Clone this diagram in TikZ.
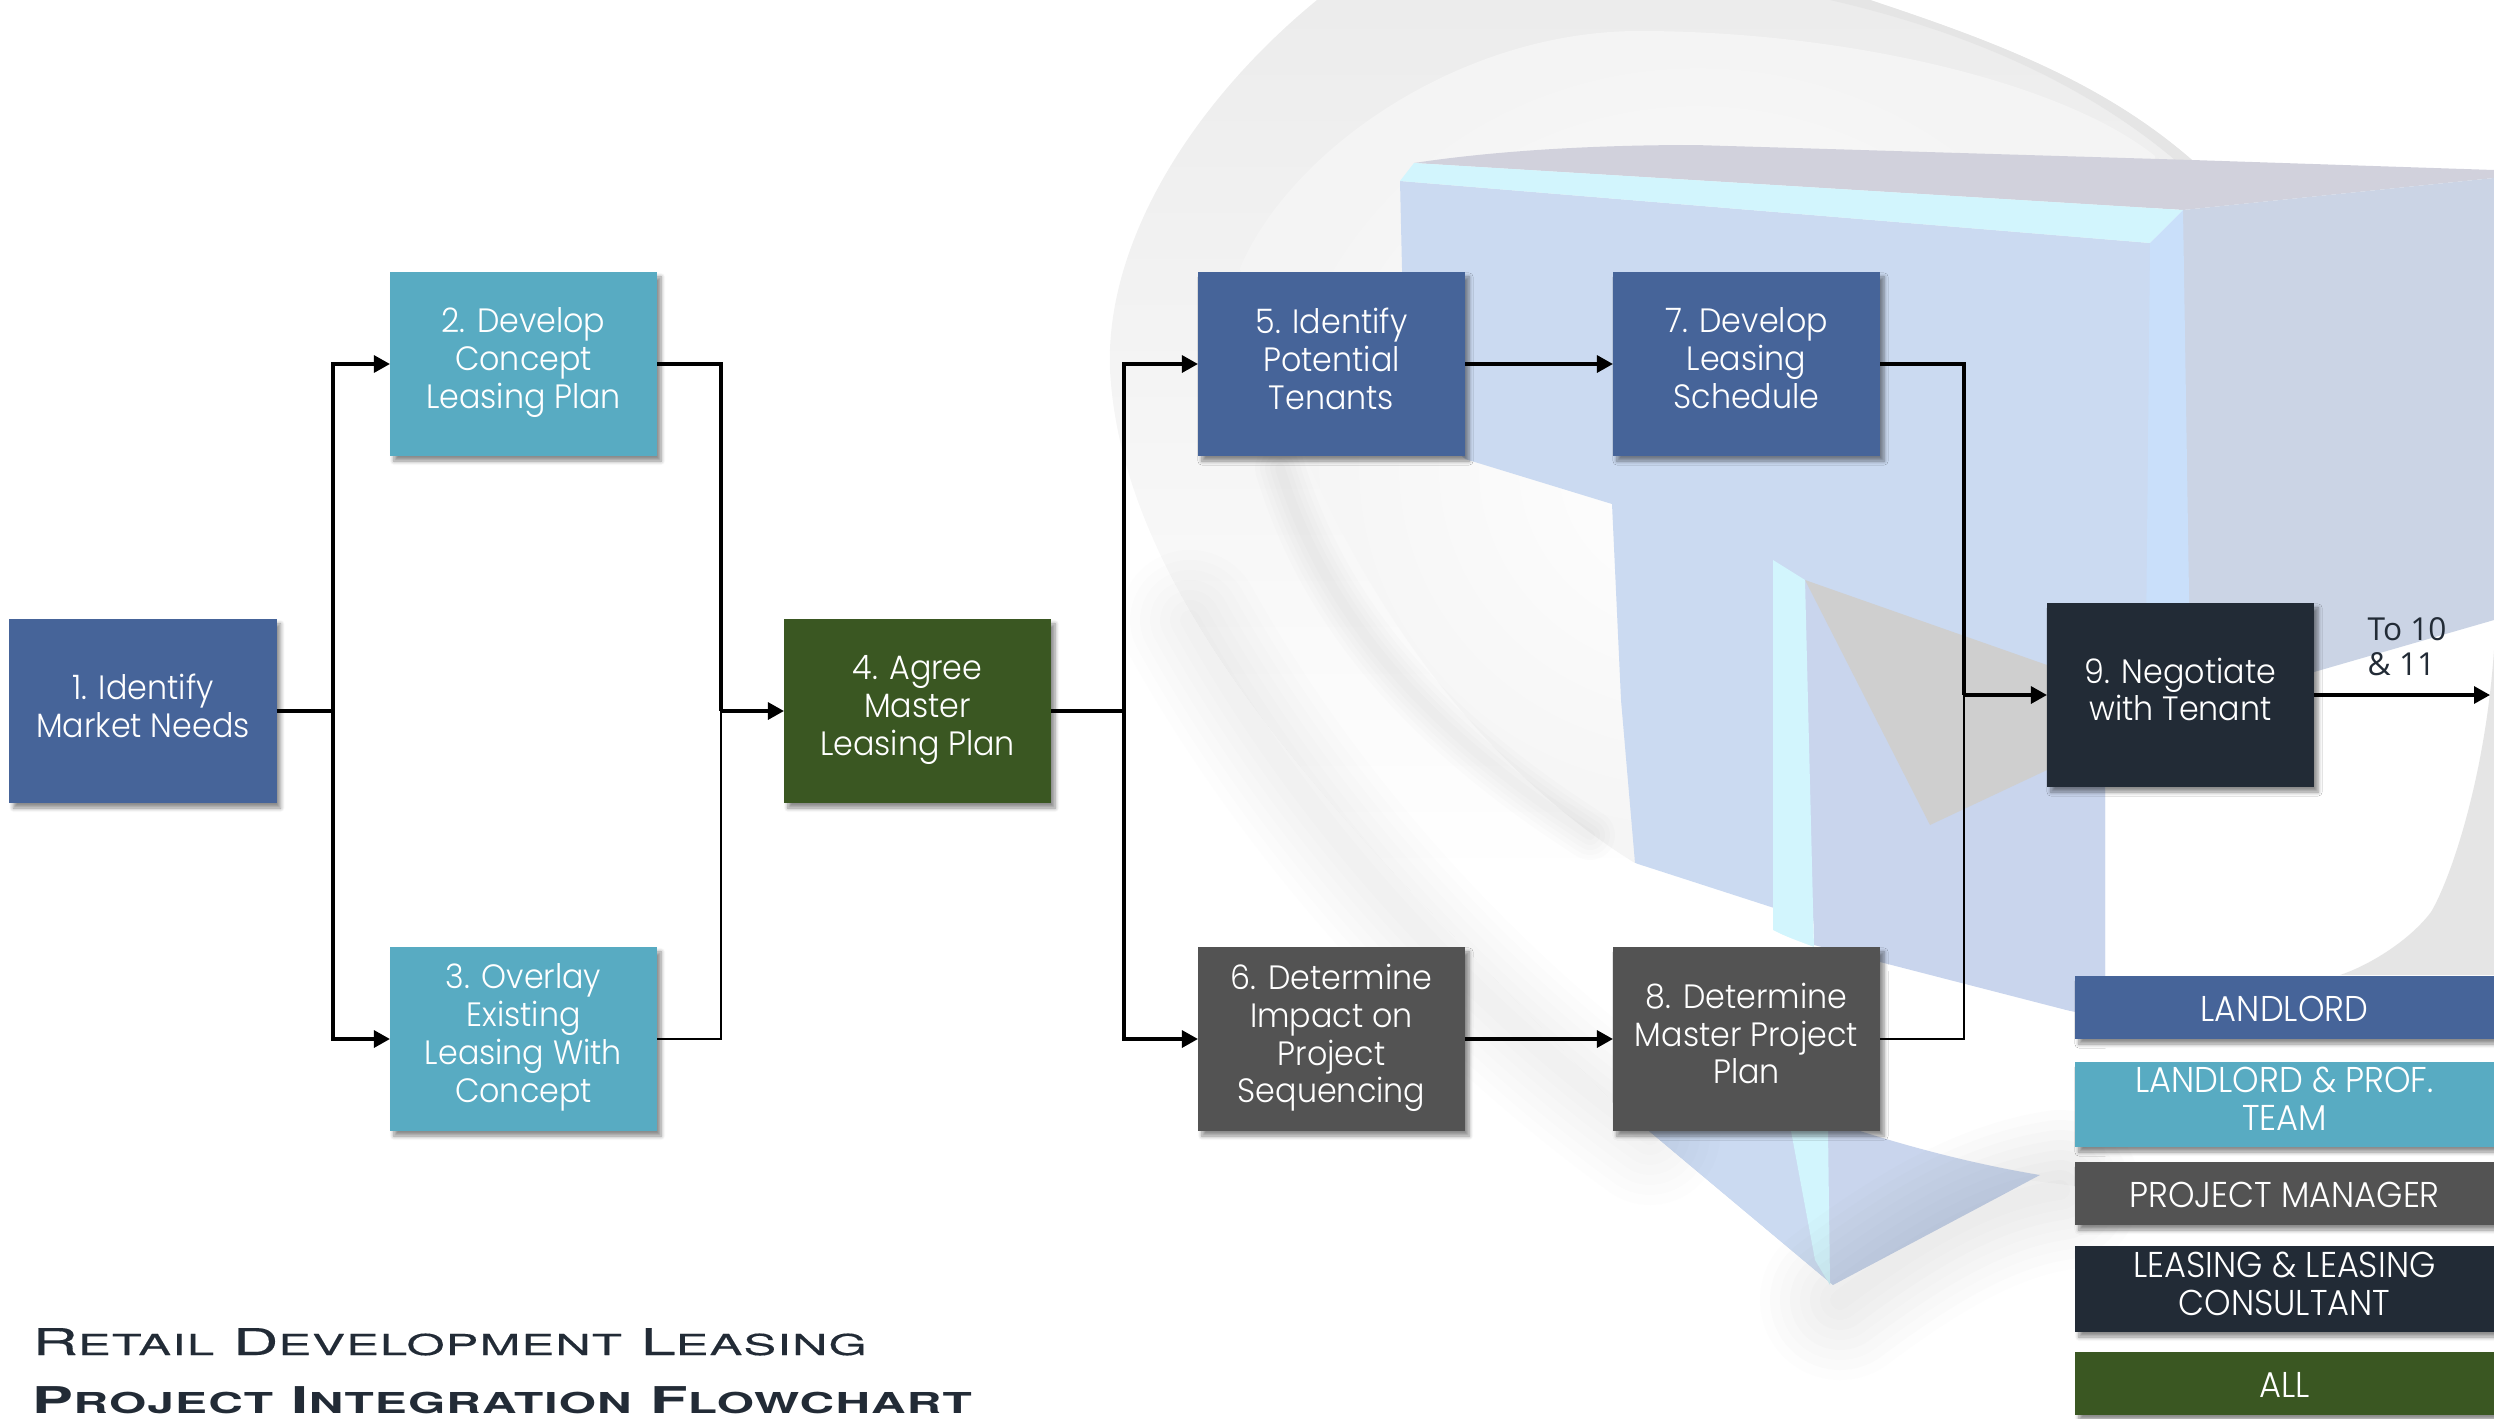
\documentclass[tikz,border=0pt]{standalone}
\usepackage{fontspec}
\setmainfont{Poppins}[UprightFont=* Light,FakeStretch=0.94]
\newfontfamily\labelfont{Open Sans}
\newfontfamily\titlefont{TeX Gyre Heros}[FakeStretch=1.7,LetterSpace=4,FakeBold=0.4]
\newfontfamily\headfont{TeX Gyre Heros}[FakeStretch=1.66,LetterSpace=4]
\usetikzlibrary{positioning,arrows.meta,shadows.blur}
\definecolor{landlord}{HTML}{466499}
\definecolor{team}{HTML}{58ABC2}
\definecolor{manager}{HTML}{535353}
\definecolor{leasing}{HTML}{222B36}
\definecolor{allparty}{HTML}{3A5722}
\definecolor{face}{HTML}{CBDAF1}
\definecolor{side}{HTML}{CBD4E5}
\definecolor{lower}{HTML}{C9D5ED}
\definecolor{edgetop}{HTML}{D1D1DC}
\definecolor{glint}{HTML}{D2F5FD}
\definecolor{stripe}{HTML}{C9DFFA}
\begin{document}
\begin{tikzpicture}[x=0.01cm,y=-0.01cm]
    \tikzset{
        box/.style={draw=none, shape=rectangle, text=white, align=center, font=\fontsize{9.6}{10.8}\selectfont,
            minimum width=2.67cm, minimum height=1.84cm, inner sep=0pt, outer sep=0pt,
            execute at begin node={\rule{0pt}{11pt}}, execute at end node=\strut,
            blur shadow={shadow xshift=0.04cm, shadow yshift=-0.05cm, shadow blur steps=6, shadow blur radius=0.04cm, shadow opacity=45}},
        key/.style={box, font=\fontsize{10.2}{10.8}\selectfont, minimum width=4.19cm, minimum height=0.63cm},
        flow/.style={black, line width=0.9pt, -{Triangle[length=0.16cm, width=0.17cm]}},
        feed/.style={black, line width=0.9pt},
        feedthin/.style={black, line width=0.4pt}
    }
    \useasboundingbox (0,0) rectangle (2494,1418);
    % watermark behind the chart
    \shade[top color=gray!15, bottom color=white] (1317,0) .. controls (1195,100) and (1105,240) .. (1110,370)
        .. controls (1120,560) and (1270,740) .. (1400,880) -- (1635,880) -- (2192,160)
        .. controls (2100,80) and (1990,40) .. (1870,0) -- cycle;
    \shade[inner color=white, outer color=gray!9] (1240,268) .. controls (1290,150) and (1460,31) .. (1639,31)
        .. controls (1840,31) and (2060,80) .. (2155,156) -- (2155,900) -- (1635,863)
        .. controls (1500,780) and (1330,600) .. (1240,268) -- cycle;
    \fill[gray!20] (1870,0) .. controls (1990,40) and (2100,80) .. (2192,160) -- (2175,160)
        .. controls (2080,80) and (1960,30) .. (1830,0) -- cycle;
    \fill[white] (2105,600) rectangle (2494,985);
    \fill[gray!20] (2494,650) .. controls (2485,780) and (2450,880) .. (2431,912)
        .. controls (2410,940) and (2370,965) .. (2340,975) -- (2494,975) -- cycle;
    % faces of the letter
    \fill[edgetop] (1414,163) .. controls (1500,150) and (1600,145) .. (1695,145) -- (2192,160) -- (2494,170)
        -- (2494,178) -- (2183,210) -- cycle;
    \fill[side] (2183,210) -- (2494,178) -- (2494,620) -- (2314,672) -- (2105,730) -- cycle;
    \fill[face] (1400,181) -- (2150,243) -- (2190,660) -- (2105,730) -- (2105,1015) -- (1635,863) -- (1621,700)
        -- (1612,504) -- (1465,459) -- (1405,400) -- cycle;
    \fill[lower] (1805,580) -- (2050,690) -- (2105,790) -- (2105,1020) -- (1814,945) -- cycle;
    \fill[glint] (1414,163) -- (2183,210) -- (2150,243) -- (1400,181) -- cycle;
    \fill[stripe] (2183,210) -- (2150,243) -- (2146,640) -- (2190,660) -- cycle;
    \fill[gray!38] (1805,580) -- (2047,665) -- (2047,770) -- (1930,825) -- cycle;
    \fill[glint] (1773,560) -- (1805,580) -- (1814,950) -- (1773,930) -- cycle;
    % white sweep across the stem, and the tip below it
    \fill[white] (1635,863) .. controls (1750,930) and (1900,990) .. (2105,1016)
        -- (2105,1190) -- (1640,1131) -- (1400,880) -- cycle;
    \fill[lower] (1649,1131) -- (1860,1131) .. controls (1920,1150) and (1980,1165) .. (2040,1175) -- (1833,1285) -- cycle;
    \fill[face] (1649,1131) -- (1791,1131) -- (1815,1260) -- (1833,1285) -- cycle;
    \fill[glint] (1791,1131) -- (1828,1131) -- (1830,1285) -- (1815,1260) -- cycle;
    \foreach \w in {20,40,...,140}
        \draw[gray, line width=\w*0.01cm, opacity=0.014, line cap=round]
            (1190,620) .. controls (1290,800) and (1450,990) .. (1650,1135);
    \foreach \w in {20,40,...,160}
        \draw[gray, line width=\w*0.01cm, opacity=0.02, line cap=round]
            (1840,1300) .. controls (1920,1240) and (1990,1200) .. (2060,1190);
    \foreach \w in {10,20,...,50}
        \draw[gray, line width=\w*0.01cm, opacity=0.018, line cap=round]
            (1280,468) .. controls (1320,600) and (1410,720) .. (1590,835);
    % steps
    \node[box, fill=landlord] (1) at (143,711) {1. Identify\\Market Needs};
    \node[box, fill=team] (2) at (523.5,364) {2. Develop\\Concept\\Leasing Plan};
    \node[box, fill=team] (3) at (523.5,1039) {3. Overlay\\Existing\\Leasing With\\Concept};
    \node[box, fill=allparty] (4) at (917.5,711) {4. Agree\\Master\\Leasing Plan};
    \node[box, fill=landlord] (5) at (1331.5,364) {5. Identify\\Potential\\Tenants};
    \node[box, fill=manager] (6) at (1331.5,1039) {6. Determine\\Impact on\\Project\\Sequencing};
    \node[box, fill=landlord] (7) at (1746.5,364) {7. Develop\\Leasing\\Schedule};
    \node[box, fill=manager] (8) at (1746.5,1039) {8. Determine\\Master Project\\Plan};
    \node[box, fill=leasing] (9) at (2180.5,695) {9. Negotiate\\with Tenant};
    \coordinate (splita) at (333,711);
    \coordinate (joinb) at (721,711);
    \coordinate (splitc) at (1124,711);
    \coordinate (joind) at (1964,695);
    \coordinate (next) at (2490,695);
    \draw[feed] (1) -- (splita);
    \draw[flow] (splita) |- (2);
    \draw[flow] (splita) |- (3);
    \draw[feed] (2) -| (joinb);
    \draw[feedthin] (3) -| (joinb);
    \draw[flow] (joinb) -- (4);
    \draw[feed] (4) -- (splitc);
    \draw[flow] (splitc) |- (5);
    \draw[flow] (splitc) |- (6);
    \draw[flow] (5) -- (7);
    \draw[flow] (6) -- (8);
    \draw[feed] (7) -| (joind);
    \draw[feedthin] (8) -| (joind);
    \draw[flow] (joind) -- (9);
    \draw[flow] (9) -- (next);
    \node[text=leasing, align=left, anchor=south west, inner sep=0pt, font=\labelfont\fontsize{9}{10.2}\selectfont] (onward) at (2367,677) {To 10\\\& 11};
    % key
    \node[key, fill=landlord] (keya) at (2284.5,1007.5) {LANDLORD};
    \node[key, fill=team, minimum height=0.85cm] (keyb) at (2284.5,1104.5) {LANDLORD \& PROF.\\TEAM};
    \node[key, fill=manager] (keyc) at (2284.5,1193.5) {PROJECT MANAGER};
    \node[key, fill=leasing, minimum height=0.86cm] (keyd) at (2284.5,1289) {LEASING \& LEASING\\CONSULTANT};
    \node[key, fill=allparty] (keye) at (2284.5,1383.5) {ALL};
    % heading
    \node[text=leasing, anchor=base west, inner sep=0pt, font=\titlefont\fontsize{10.5}{12}\selectfont] (titlea) at (32,1355) {R{\fontsize{8.2}{12}\selectfont ETAIL} D{\fontsize{8.2}{12}\selectfont EVELOPMENT} L{\fontsize{8.2}{12}\selectfont EASING}};
    \node[text=leasing, anchor=base west, inner sep=0pt, font=\headfont\bfseries\fontsize{10.5}{12}\selectfont] (titleb) at (32,1413) {P{\fontsize{8.2}{12}\selectfont ROJECT} I{\fontsize{8.2}{12}\selectfont NTEGRATION} F{\fontsize{8.2}{12}\selectfont LOWCHART}};
\end{tikzpicture}
\end{document}
